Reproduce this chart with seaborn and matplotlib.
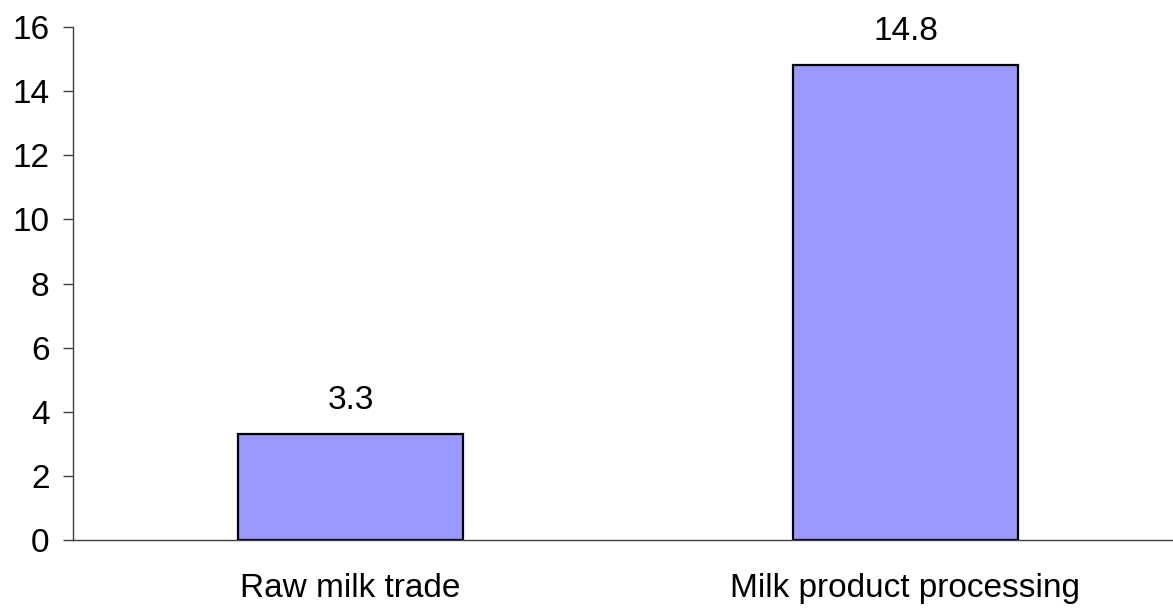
import matplotlib
matplotlib.use("Agg")
import matplotlib.pyplot as plt
import seaborn as sns
import pandas as pd

categories = ["Raw milk trade", "Milk product processing"]
values = [3.3, 14.8]
value_labels = ["3.3", "14.8"]
y_ticks = [0, 2, 4, 6, 8, 10, 12, 14, 16]

sns.set_theme(style="white")
plt.rcParams['font.family'] = ['Liberation Sans', 'DejaVu Sans']
plt.rcParams['text.color'] = 'black'
plt.rcParams['xtick.color'] = 'black'
plt.rcParams['ytick.color'] = 'black'

df = pd.DataFrame({"category": categories, "value": values})

fig = plt.figure(figsize=(11.73, 6.08), dpi=100)
ax = fig.add_axes([73/1173, 68/608, 1110/1173, 513/608])

sns.barplot(data=df, x="category", y="value", ax=ax, color="#9999FF",
            saturation=1, width=0.405, edgecolor="black", linewidth=1.6)

ax.set_xlim(-0.5, 1.5)
ax.set_ylim(0, 16)
ax.set_yticks(y_ticks)
ax.set_yticklabels([str(t) for t in y_ticks], fontsize=24)
ax.set_xlabel("")
ax.set_ylabel("")

ax.set_xticks([0, 1])
ax.set_xticklabels(categories, fontsize=24)
ax.tick_params(axis="x", which="major", length=0, pad=24, labelcolor="black")
ax.set_xticks([-0.5, 0.5, 1.5], minor=True)
ax.tick_params(axis="x", which="minor", length=7, width=1, color="#404040", direction="out")
ax.tick_params(axis="y", length=7, width=1, color="#404040", direction="out", pad=10,
               left=True, labelcolor="black")

for s in ["top", "right"]:
    ax.spines[s].set_visible(False)
for s in ["left", "bottom"]:
    ax.spines[s].set_color("#404040")
    ax.spines[s].set_linewidth(1)

for i, (v, lab) in enumerate(zip(values, value_labels)):
    ax.annotate(lab, (i, v), xytext=(0, 13), textcoords="offset points",
                ha="center", va="bottom", fontsize=24, color="black")

fig.savefig("out.png", dpi=100)
